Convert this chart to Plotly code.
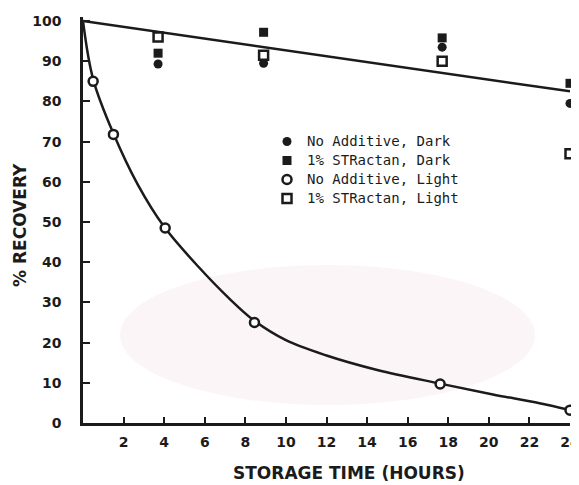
import plotly.graph_objects as go

# ---------------- data ----------------
# fitted straight line for the dark / additive samples
top_line_x = [0, 24]
top_line_y = [100, 82.5]

# smooth decay curve drawn through the "No Additive, Light" points
decay_curve_x = [0, 0.5, 1.5, 2.7, 4.0, 5.7, 7.2, 8.4, 10, 12, 14.5, 17.6, 20.2, 22.5, 24]
decay_curve_y = [100, 85.5, 72, 59.3, 48.8, 38.8, 31, 25.6, 20.6, 16.8, 13.2, 9.8, 7.1, 4.9, 3.2]

# No Additive, Light (open circles)
light_noadd_x = [0.5, 1.5, 4.05, 8.45, 17.6, 24]
light_noadd_y = [85, 71.8, 48.5, 25.0, 9.7, 3.2]

# time points of the storage series
store_x = [3.7, 8.9, 17.7, 24]
dark_noadd_y = [89.3, 89.5, 93.5, 79.5]     # No Additive, Dark (filled circles)
dark_str_y = [92.0, 97.2, 95.8, 84.5]       # 1% STRactan, Dark (filled squares)
light_str_y = [96.0, 91.5, 90.0, 67.0]      # 1% STRactan, Light (open squares)

x_ticks = [2, 4, 6, 8, 10, 12, 14, 16, 18, 20, 22, 24]
y_ticks = [0, 10, 20, 30, 40, 50, 60, 70, 80, 90, 100]

x_title = "STORAGE TIME (HOURS)"
y_title = "% RECOVERY"
legend_names = ["No Additive, Dark", "1% STRactan, Dark", "No Additive, Light", "1% STRactan, Light"]

# ---------------- styling ----------------
INK = "#1b1b1b"
TICK_FONT = dict(family="DejaVu Sans", size=14, color=INK, weight="bold")
TITLE_FONT = dict(family="DejaVu Sans", size=17, color=INK, weight="bold")
LEG_FONT = "DejaVu Sans Mono"

# page has an 8px body margin: work in page pixels, convert to figure
OFF = 8
W, H = 579 - OFF, 485 - OFF
PLOT_L, PLOT_R, PLOT_T, PLOT_B = 83, 570, 17, 423   # page pixels
L = PLOT_L - OFF
T = PLOT_T - OFF
R = W - (PLOT_R - OFF)
B = H - (PLOT_B - OFF)
PW, PH = PLOT_R - PLOT_L, PLOT_B - PLOT_T

def px(x):
    return (x - PLOT_L) / PW

def py(y):
    return (PLOT_B - y) / PH

fig = go.Figure()

fig.add_trace(go.Scatter(x=top_line_x, y=top_line_y, mode="lines",
                         line=dict(color=INK, width=2.5), showlegend=False,
                         hoverinfo="skip", cliponaxis=False))
fig.add_trace(go.Scatter(x=decay_curve_x, y=decay_curve_y, mode="lines",
                         line=dict(color=INK, width=2.5, shape="spline", smoothing=1.0),
                         showlegend=False, hoverinfo="skip", cliponaxis=False))

def nm(s):
    return "<span style='font-size:14px'>" + s + "</span>"

fig.add_trace(go.Scatter(x=store_x, y=dark_noadd_y, mode="markers", name=nm(legend_names[0]),
                         marker=dict(symbol="circle", size=9, color=INK,
                                     line=dict(color=INK, width=0)),
                         cliponaxis=False))
fig.add_trace(go.Scatter(x=store_x, y=dark_str_y, mode="markers", name=nm(legend_names[1]),
                         marker=dict(symbol="square", size=9, color=INK,
                                     line=dict(color=INK, width=0)),
                         cliponaxis=False))
fig.add_trace(go.Scatter(x=light_noadd_x, y=light_noadd_y, mode="markers", name=nm(legend_names[2]),
                         marker=dict(symbol="circle", size=9, color="white",
                                     line=dict(color=INK, width=2.5)),
                         cliponaxis=False))
fig.add_trace(go.Scatter(x=store_x, y=light_str_y, mode="markers", name=nm(legend_names[3]),
                         marker=dict(symbol="square", size=9, color="white",
                                     line=dict(color=INK, width=2.5)),
                         cliponaxis=False))

fig.update_layout(
    width=W, height=H,
    margin=dict(l=L, r=R, t=T, b=B, pad=0, autoexpand=False),
    paper_bgcolor="white", plot_bgcolor="rgba(0,0,0,0)",
    showlegend=True,
    legend=dict(x=px(267), y=py(127), xanchor="left", yanchor="top",
                bgcolor="rgba(0,0,0,0)", borderwidth=0,
                font=dict(family=LEG_FONT, size=12, color=INK),
                itemwidth=30, tracegroupgap=0),
    xaxis=dict(range=[0, 24.0], tickvals=x_ticks, ticktext=[str(v) for v in x_ticks],
               showline=True, linecolor=INK, linewidth=2.5, mirror=False,
               ticks="inside", ticklen=6, tickwidth=2, tickcolor=INK,
               showgrid=False, zeroline=False, tickfont=TICK_FONT,
               ticklabelstandoff=4, ticklabeloverflow="allow", automargin=False),
    yaxis=dict(range=[0, 101], tickvals=y_ticks, ticktext=[str(v) for v in y_ticks],
               showline=True, linecolor=INK, linewidth=2.5, mirror=False,
               ticks="inside", ticklen=7, tickwidth=2, tickcolor=INK,
               showgrid=False, zeroline=False, tickfont=TICK_FONT,
               ticklabelstandoff=16, ticklabeloverflow="allow", automargin=False),
    annotations=[
        dict(text=x_title, xref="paper", yref="paper", x=px(349), y=py(473),
             xanchor="center", yanchor="middle", showarrow=False, font=TITLE_FONT),
        dict(text=y_title, xref="paper", yref="paper", x=px(20), y=py(225),
             xanchor="center", yanchor="middle", textangle=-90, showarrow=False,
             font=TITLE_FONT),
    ],
    shapes=[
        dict(type="circle", xref="paper", yref="paper", layer="below",
             x0=px(120), x1=px(535), y0=py(405), y1=py(265),
             fillcolor="rgba(246,222,232,0.3)", line=dict(width=0)),
    ],
)

fig.write_html("out.html")
